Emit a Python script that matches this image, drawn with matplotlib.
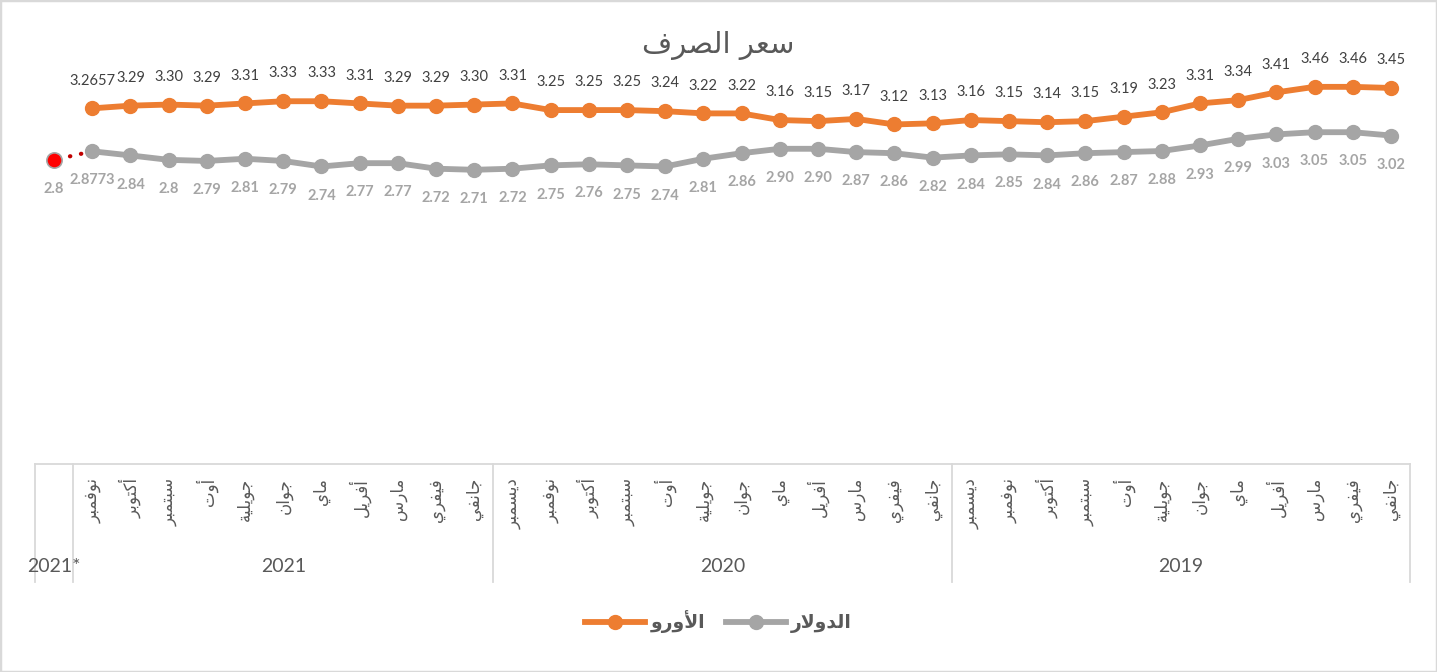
import matplotlib.pyplot as plt
from matplotlib.lines import Line2D
from matplotlib.patches import Rectangle
import matplotlib.transforms as mtransforms

# 字形表: 孤立, 词尾, 词首, 词中
AR = {
    'ا': ('\uFE8D', '\uFE8E', None, None),
    'أ': ('\uFE83', '\uFE84', None, None),
    'ب': ('\uFE8F', '\uFE90', '\uFE91', '\uFE92'),
    'ة': ('\uFE93', '\uFE94', None, None),
    'ت': ('\uFE95', '\uFE96', '\uFE97', '\uFE98'),
    'ج': ('\uFE9D', '\uFE9E', '\uFE9F', '\uFEA0'),
    'د': ('\uFEA9', '\uFEAA', None, None),
    'ر': ('\uFEAD', '\uFEAE', None, None),
    'س': ('\uFEB1', '\uFEB2', '\uFEB3', '\uFEB4'),
    'ص': ('\uFEB9', '\uFEBA', '\uFEBB', '\uFEBC'),
    'ع': ('\uFEC9', '\uFECA', '\uFECB', '\uFECC'),
    'ف': ('\uFED1', '\uFED2', '\uFED3', '\uFED4'),
    'ك': ('\uFED9', '\uFEDA', '\uFEDB', '\uFEDC'),
    'ل': ('\uFEDD', '\uFEDE', '\uFEDF', '\uFEE0'),
    'م': ('\uFEE1', '\uFEE2', '\uFEE3', '\uFEE4'),
    'ن': ('\uFEE5', '\uFEE6', '\uFEE7', '\uFEE8'),
    'و': ('\uFEED', '\uFEEE', None, None),
    'ي': ('\uFEF1', '\uFEF2', '\uFEF3', '\uFEF4'),
}
LAM_ALEF = {'ا': ('\uFEFB', '\uFEFC'), 'أ': ('\uFEF7', '\uFEF8')}


def shape(word):
    out = []
    i = 0
    while i < len(word):
        c = word[i]
        if c not in AR:
            out.append(c)
            i += 1
            continue
        prev = word[i - 1] if i > 0 else None
        joins_prev = prev in AR and AR[prev][2] is not None
        if c == 'ل' and i + 1 < len(word) and word[i + 1] in LAM_ALEF:
            out.append(LAM_ALEF[word[i + 1]][1 if joins_prev else 0])
            i += 2
            continue
        nxt = word[i + 1] if i + 1 < len(word) else None
        joins_next = AR[c][2] is not None and nxt in AR
        iso, fin, ini, med = AR[c]
        if joins_prev and joins_next:
            out.append(med)
        elif joins_prev:
            out.append(fin)
        elif joins_next:
            out.append(ini)
        else:
            out.append(iso)
        i += 1
    return ''.join(reversed(out))


# data
months = ['جانفي', 'فيفري', 'مارس', 'أفريل', 'ماي', 'جوان', 'جويلية', 'أوت',
          'سبتمبر', 'أكتوبر', 'نوفمبر', 'ديسمبر']
years = ['2019', '2020', '2021', '2021*']
month_labels = months + months + months[:11] + ['']

euro_txt = ['3.45', '3.46', '3.46', '3.41', '3.34', '3.31', '3.23', '3.19', '3.15', '3.14', '3.15', '3.16',
            '3.13', '3.12', '3.17', '3.15', '3.16', '3.22', '3.22', '3.24', '3.25', '3.25', '3.25', '3.31',
            '3.30', '3.29', '3.29', '3.31', '3.33', '3.33', '3.31', '3.29', '3.30', '3.29', '3.2657']
dollar_txt = ['3.02', '3.05', '3.05', '3.03', '2.99', '2.93', '2.88', '2.87', '2.86', '2.84', '2.85', '2.84',
              '2.82', '2.86', '2.87', '2.90', '2.90', '2.86', '2.81', '2.74', '2.75', '2.76', '2.75', '2.72',
              '2.71', '2.72', '2.77', '2.77', '2.74', '2.79', '2.81', '2.79', '2.8', '2.84', '2.8773',
              '2.8']
euro = [float(s) for s in euro_txt]
dollar = [float(s) for s in dollar_txt]

ORANGE = '#ED7D31'
GRAY = '#A5A5A5'
TXT = '#595959'
GRID = '#D9D9D9'
AR_FONT = ['DejaVu Sans']
NUM_FONT = ['Lato', 'DejaVu Sans']

fig = plt.figure(figsize=(14.37, 6.72), dpi=100)
W, H = 1437, 672
ax = fig.add_axes([35 / W, (H - 464) / H, 1375 / W, 424 / H])

n = len(month_labels)
x_e = list(range(len(euro)))
x_d = list(range(len(dollar)))

ax.plot(x_e, euro, color=ORANGE, lw=4.2, marker='o', ms=10, solid_capstyle='round', zorder=3)
ax.plot(x_d[:-1], dollar[:-1], color=GRAY, lw=4.2, marker='o', ms=10, solid_capstyle='round', zorder=3)
# 2021* 点
ax.plot(x_d[-2:], dollar[-2:], color='#C00000', lw=3, linestyle=(0, (0.1, 2.6)),
        dash_capstyle='round', zorder=2)
ax.plot(x_d[-1], dollar[-1], marker='o', ms=11, color='#FF0000', mec=GRAY, mew=1.2, zorder=4)

for x, v, s in zip(x_e, euro, euro_txt):
    ax.annotate(s, (x, v), xytext=(0, 20), textcoords='offset points', ha='center', va='center',
                fontsize=10.5, color='#404040', family=NUM_FONT)
for x, v, s in zip(x_d, dollar, dollar_txt):
    ax.annotate(s, (x, v), xytext=(0, -21), textcoords='offset points', ha='center', va='center',
                fontsize=10.5, color=GRAY, fontweight='bold', family=NUM_FONT)

ax.set_xlim(n - 0.5, -0.5)
ax.set_ylim(0.05, 0.05 + 424 / 110.6)
ax.set_xticks([])
ax.set_yticks([])
for sp in ['top', 'left', 'right']:
    ax.spines[sp].set_visible(False)
ax.spines['bottom'].set_color(GRID)
ax.spines['bottom'].set_linewidth(1.3)

# 分类轴
trans = mtransforms.blended_transform_factory(ax.transData, ax.transAxes)
for i, m in enumerate(month_labels):
    if m:
        ax.annotate(shape(m), (i, 0), xycoords=trans, xytext=(0, -10), textcoords='offset points',
                    rotation=90, ha='center', va='top', fontsize=12, color=TXT, family=AR_FONT)

bounds = [-0.5, 11.5, 23.5, 34.5, 35.5]
low = -(582 - 464) / 424
for b in bounds:
    ax.plot([b, b], [0, low], transform=trans, color=GRID, lw=1.3, clip_on=False)
for k, y in enumerate(years):
    ax.text((bounds[k] + bounds[k + 1]) / 2, -(567 - 464) / 424, y, transform=trans,
            ha='center', va='center', fontsize=14, color=TXT, family=NUM_FONT)

fig.text(0.5, 1 - 45 / H, shape('سعر الصرف'), ha='center', va='center', fontsize=21,
         color=TXT, family=AR_FONT)

handles = [Line2D([], [], color=ORANGE, lw=4.2, marker='o', ms=10),
           Line2D([], [], color=GRAY, lw=4.2, marker='o', ms=10)]
fig.legend(handles, [shape('الأورو'), shape('الدولار')], loc='center', bbox_to_anchor=(0.5, 1 - 622 / H),
           ncol=2, frameon=False, handlelength=3.2, columnspacing=1.1, handletextpad=0.3,
           prop={'family': AR_FONT, 'size': 13.5, 'weight': 'bold'}, labelcolor=TXT)

fig.patches.append(Rectangle((0, 0), 1, 1, transform=fig.transFigure, fill=False,
                             edgecolor=GRID, lw=2.5))

fig.savefig('out.png', dpi=100)
